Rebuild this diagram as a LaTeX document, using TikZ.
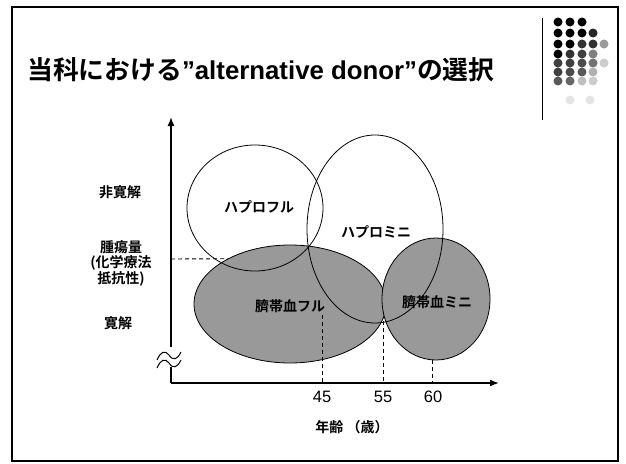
\documentclass[tikz,border=0pt]{standalone}
\usepackage{fontspec}
\usetikzlibrary{shapes.geometric,arrows.meta}
\newfontfamily\jpb{Noto Sans CJK JP Bold}
\newfontfamily\arb{Liberation Sans Bold}
\newfontfamily\arr{Liberation Sans}
\definecolor{cordgray}{gray}{0.6}
\begin{document}
\begin{tikzpicture}[x=1pt,y=-1pt,
  cordshade/.style={ellipse, draw=black, line width=0.8pt, fill=cordgray, inner sep=0pt},
  haplo/.style={ellipse, draw=black, line width=0.8pt, inner sep=0pt},
  lbl/.style={font=\jpb\fontsize{14}{15.5}\selectfont, inner sep=0pt, align=center},
  tick/.style={font=\arr\fontsize{16.5}{18}\selectfont, inner sep=0pt},
  axisline/.style={line width=1.4pt, black},
  guide/.style={line width=0.9pt, dash pattern=on 4pt off 3pt},
  dotc/.style={fill=black!#1}]
\useasboundingbox (0,0) rectangle (626,463);
% frame
\draw[line width=2pt] (12,7) rectangle (618,461);
\draw[line width=0.7pt] (542,18) -- (542,120);
% dots decoration
\foreach \px/\py/\g in {558/22/100,570/22/100,582/22/100,
  558/33/100,570/33/100,582/33/100,593/33/85,
  558/44/100,570/44/100,582/44/80,593/44/80,604/44/40,
  558/54/100,570/54/80,582/54/75,593/54/50,
  558/63/75,570/63/75,582/63/70,593/63/55,604/63/20,
  558/72/75,570/72/70,582/72/65,593/72/30,
  558/81/65,570/81/60,582/81/25,593/81/20,
  570/100/10,590/100/10}
  \fill[dotc=\g] (\px,\py) circle (4.5pt);
% title
\node[anchor=west, inner sep=0pt] (title) at (27,70)
  {\fontsize{25.8}{30}\selectfont\jpb 当科における\arb ”alternative donor”\jpb の選択};
% regions
\node[cordshade, minimum width=192pt, minimum height=118pt] (cf) at (290,304) {};
\node[cordshade, minimum width=108pt, minimum height=122pt] (cm) at (436,299) {};
\node[haplo, minimum width=136pt, minimum height=126pt] (hf) at (255,208) {};
\node[haplo, minimum width=136pt, minimum height=188pt] (hm) at (375,229) {};
\node[lbl] (hfl) at (259,207) {ハプロフル};
\node[lbl] (hml) at (376,232) {ハプロミニ};
\node[lbl] (cfl) at (290,306) {臍帯血フル};
\node[lbl] (cml) at (437,302) {臍帯血ミニ};
% axes
\coordinate (O) at (171,383);
\coordinate (ytop) at (171,117);
\coordinate (xend) at (499,383);
\coordinate (yb1) at (171,367);
\coordinate (yb2) at (171,347);
\draw[axisline] (yb1) -- (O);
\draw[axisline, -{Latex[length=9pt,width=7pt]}] (O) -- (xend);
\draw[axisline, -{Latex[length=9pt,width=7pt]}] (yb2) -- (ytop);
\draw[line width=1pt] (157,360) .. controls (161,351) and (165,350) .. (169,355)
  .. controls (173,361) and (177,360) .. (181,352);
\draw[line width=1pt] (157,368) .. controls (161,359) and (165,358) .. (169,363)
  .. controls (173,369) and (177,368) .. (181,360);
% guides
\coordinate (h1) at (171,259);
\draw[guide] (h1) -- (cf.144);
\coordinate (g45) at (322,315);
\coordinate (g55) at (383,321);
\coordinate (g60) at (432,360);
\draw[guide] (g45) -- (g45 |- O);
\draw[guide] (g55) -- (g55 |- O);
\draw[guide] (g60) -- (g60 |- O);
% tick labels
\node[tick] (t45) at (322,397) {45};
\node[tick] (t55) at (383,397) {55};
\node[tick] (t60) at (433,397) {60};
\node[lbl] (xlab) at (352,427) {年齢 （歳）};
% y labels
\node[lbl] (nr) at (120,192) {非寛解};
\node[lbl] (tm) at (121,263) {腫瘍量\\(化学療法\\抵抗性)};
\node[lbl] (cr) at (118,323) {寛解};
\end{tikzpicture}
\end{document}
